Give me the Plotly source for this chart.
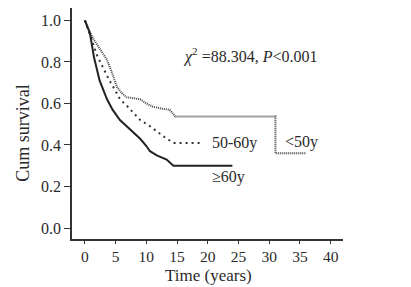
import plotly.graph_objects as go

# Kaplan-Meier curves
t_lt50 = [0, 0.7, 1.4, 2.5, 3.6, 4.5, 5.2, 6.0, 6.8, 8.0, 9.0, 10.0, 11.0, 12.5, 13.8, 14.7, 31.0, 31.0, 36.0]
s_lt50 = [1.0, 0.95, 0.91, 0.86, 0.81, 0.74, 0.68, 0.65, 0.63, 0.625, 0.62, 0.60, 0.585, 0.575, 0.57, 0.537, 0.537, 0.36, 0.36]

t_5060 = [0, 1.0, 2.0, 3.0, 4.0, 5.0, 5.7, 6.8, 7.8, 9.0, 10.6, 12.0, 13.3, 14.5, 19.0]
s_5060 = [1.0, 0.92, 0.83, 0.77, 0.71, 0.66, 0.62, 0.59, 0.56, 0.52, 0.49, 0.46, 0.43, 0.41, 0.41]

t_ge60 = [0, 0.8, 1.5, 2.4, 3.6, 4.5, 5.7, 6.8, 7.8, 9.0, 10.0, 10.6, 11.7, 12.5, 13.3, 14.4, 24.0]
s_ge60 = [1.0, 0.94, 0.82, 0.71, 0.62, 0.57, 0.52, 0.49, 0.46, 0.43, 0.395, 0.37, 0.35, 0.34, 0.33, 0.30, 0.30]

x_ticks = [0, 5, 10, 15, 20, 25, 30, 35, 40]
y_ticks = [0.0, 0.2, 0.4, 0.6, 0.8, 1.0]
y_ticklabels = ["0.0", "0.2", "0.4", "0.6", "0.8", "1.0"]

FONT = "Liberation Serif, Times New Roman, serif"
INK = "#2a2a2a"

fig = go.Figure()
fig.add_trace(go.Scatter(x=t_lt50, y=s_lt50, mode="lines",
                         line=dict(color="#444", width=2, dash="1px,1px")))
fig.add_trace(go.Scatter(x=t_5060, y=s_5060, mode="lines",
                         line=dict(color="#333", width=2, dash="2px,4px")))
fig.add_trace(go.Scatter(x=t_ge60, y=s_ge60, mode="lines",
                         line=dict(color="#222", width=2)))

ann_font = dict(family=FONT, size=16, color=INK)
fig.add_annotation(x=26.9, y=0.83, text="<i>χ</i><sup>2</sup> =88.304, <i>P</i>&lt;0.001",
                   showarrow=False, font=dict(family=FONT, size=16, color=INK), xanchor="center")
fig.add_annotation(x=20.3, y=0.41, text="50-60y", showarrow=False, font=ann_font, xanchor="left")
fig.add_annotation(x=32.2, y=0.415, text="&lt;50y", showarrow=False, font=ann_font, xanchor="left")
fig.add_annotation(x=20.3, y=0.245, text="≥60y", showarrow=False, font=ann_font, xanchor="left")

# axis titles
fig.add_annotation(xref="paper", yref="paper", x=-0.181, y=0.46, xanchor="center", yanchor="middle",
                   text="Cum survival", textangle=-90, showarrow=False,
                   font=dict(family=FONT, size=18, color=INK))
fig.add_annotation(xref="paper", yref="paper", x=0.505, y=-0.207, yanchor="bottom", xanchor="center",
                   text="Time (years)", showarrow=False, font=dict(family=FONT, size=17, color=INK))

fig.update_layout(
    width=411, height=287,
    margin=dict(l=72, r=68, t=8, b=48),
    paper_bgcolor="white", plot_bgcolor="white",
    showlegend=False,
    font=dict(family=FONT, size=15, color=INK),
)
fig.update_xaxes(range=[-2.1, 42], tickvals=x_ticks, showgrid=False, zeroline=False,
                 showline=True, linecolor="#333", linewidth=1.5,
                 tickfont=dict(family=FONT, size=15.5, color=INK),
                 ticks="outside", ticklen=3, tickcolor="#333", ticklabelstandoff=0)
fig.update_yaxes(range=[-0.053, 1.06], tickvals=y_ticks, ticktext=y_ticklabels,
                 showgrid=False, zeroline=False,
                 tickfont=dict(family=FONT, size=16, color=INK),
                 showline=True, linecolor="#333", linewidth=1.5,
                 ticks="outside", ticklen=6, tickcolor="#333")

fig.write_html("out.html")
